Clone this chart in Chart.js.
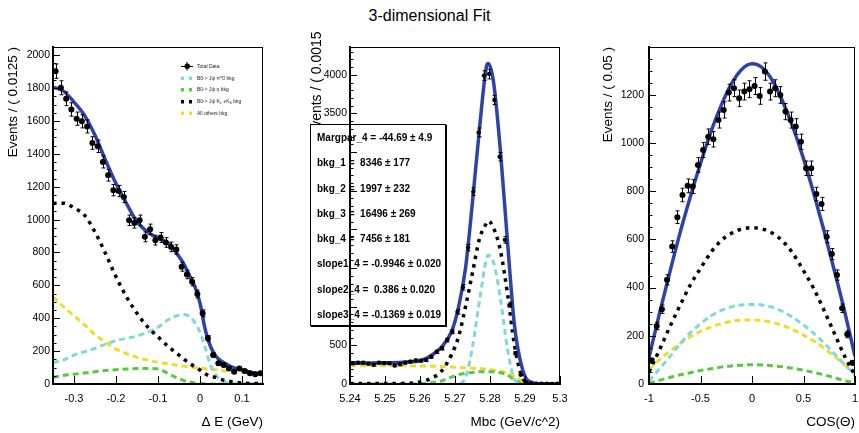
<!DOCTYPE html>
<html>
<head>
<meta charset="utf-8">
<script src="https://cdn.jsdelivr.net/npm/chart.js@4.4.1/dist/chart.umd.min.js"></script>
<style>
  html, body { margin: 0; padding: 0; background: #fff; }
  body { width: 859px; height: 433px; position: relative; overflow: hidden; font-family: 'Liberation Sans', Arial, sans-serif; color: #000; }
  canvas { position: absolute; top: 0; }
  #c1 { left: 0; }
  #c2 { left: 290px; }
  #c3 { left: 590px; }
  #title { position: absolute; left: 0; top: 7px; width: 859px; text-align: center; font-size: 16px; line-height: 18px; }
  #mbcTitleClip { position: absolute; left: 290px; top: 30px; width: 60px; height: 150px; overflow: hidden; }
  #mbcTitle { position: absolute; left: 26px; top: 50px; transform: translate(-50%, -50%) rotate(-90deg); white-space: nowrap; font-size: 14px; }
  #stats { position: absolute; left: 310px; top: 124px; width: 136px; height: 202px; box-sizing: border-box; border: 1px solid #000; box-shadow: 1px 1px 0 #000; background: #fff; padding-left: 6px; font-size: 10px; font-weight: bold; line-height: 25.3px; white-space: pre; }
  /* legend is drawn at 2x and scaled down, tiny text */
  #legend { position: absolute; left: 179px; top: 59px; width: 200px; height: 130px; transform: scale(0.5); transform-origin: 0 0; font-size: 10px; color: #222; }
  #legend .row { position: absolute; left: 0; height: 20px; width: 200px; }
  #legend .sym { position: absolute; left: 4px; top: 7px; width: 24px; height: 7px; }
  #legend .txt { position: absolute; left: 36px; top: 0; line-height: 20px; white-space: nowrap; }
  #legend sub { font-size: 7px; line-height: 0; vertical-align: -2px; }
  .dataSym .hl { position: absolute; left: 0; top: 2.5px; width: 24px; height: 2px; background: #000; }
  .dataSym .vl { position: absolute; left: 11px; top: -5px; width: 2px; height: 17px; background: #000; }
  .dataSym .dot { position: absolute; left: 6.5px; top: -2px; width: 11px; height: 11px; border-radius: 50%; background: #000; }
</style>
</head>
<body>
<div id="title">3-dimensional Fit</div>
<canvas id="c1" width="290" height="433"></canvas>
<div id="legend">
  <div class="row" style="top:4px"><div class="sym dataSym"><div class="hl"></div><div class="vl"></div><div class="dot"></div></div><div class="txt">Total Data</div></div>
  <div class="row" style="top:27.6px"><div class="sym" style="background:repeating-linear-gradient(90deg, rgb(128,216,216) 0 7px, transparent 7px 16px)"></div><div class="txt">B0-&gt; Jψ π^0 bkg</div></div>
  <div class="row" style="top:51.2px"><div class="sym" style="background:repeating-linear-gradient(90deg, rgb(88,200,66) 0 7px, transparent 7px 16px)"></div><div class="txt">B0-&gt; Jψ η bkg</div></div>
  <div class="row" style="top:74.8px"><div class="sym" style="background:repeating-linear-gradient(90deg, #000 0 7px, transparent 7px 16px)"></div><div class="txt">B0-&gt; Jψ K<sub>L</sub> +K<sub>S</sub> bkg</div></div>
  <div class="row" style="top:98px"><div class="sym" style="background:repeating-linear-gradient(90deg, rgb(236,222,40) 0 7px, transparent 7px 16px)"></div><div class="txt">All others bkg.</div></div>
</div>
<div id="mbcTitleClip"><div id="mbcTitle">Events / ( 0.0015 )</div></div>
<div id="stats">Margpar_4 = -44.69 ± 4.9
bkg_1 =  8346 ± 177
bkg_2 =  1997 ± 232
bkg_3 =  16496 ± 269
bkg_4 =  7456 ± 181
slope1_4 = -0.9946 ± 0.020
slope2_4 =  0.386 ± 0.020
slope3_4 = -0.1369 ± 0.019</div>
<canvas id="c2" width="300" height="433"></canvas>
<canvas id="c3" width="269" height="433"></canvas>

<script>
// ---------- Delta E panel ----------
const dEBinLo = -0.35;
const dEBinW = 0.0125;
const dECounts = [1903, 1802, 1735, 1670, 1614, 1598, 1567, 1466, 1446, 1351,
                  1270, 1179, 1174, 1138, 996, 980, 996, 895, 942, 875,
                  891, 861, 834, 818, 713, 666, 622, 547, 430, 278,
                  176, 126, 115, 95, 75, 95, 79, 65, 59, 65];
const dEGrid = [-0.35, -0.325, -0.3, -0.275, -0.25, -0.225, -0.2, -0.175, -0.15, -0.125,
                -0.1, -0.075, -0.05, -0.0375, -0.025, -0.0125, 0, 0.0125, 0.025, 0.0375,
                0.05, 0.075, 0.1, 0.125, 0.15];
const dEFit   = [1806, 1782, 1715, 1634, 1513, 1361, 1219, 1098, 986, 925,
                 885, 855, 775, 725, 660, 595, 492, 330, 228, 170,
                 140, 105, 85, 69, 61];
const dEKl    = [1100, 1100, 1071, 1027, 925, 794, 652, 530, 430, 348,
                 287, 227, 176, 150, 126, 105, 85, 62, 45, 40,
                 28, 14, 6, 3, 2];
const dEPi0   = [130, 146, 176, 196, 217, 243, 263, 278, 292, 315,
                 345, 392, 419, 423, 410, 375, 315, 220, 115, 55,
                 25, 4, 1, 0, 0];
const dEOther = [530, 470, 415, 360, 300, 255, 212, 185, 162, 145,
                 132, 122, 112, 108, 104, 100, 97, 93, 89, 86,
                 83, 76, 70, 64, 59];
const dEEta   = [40, 52, 60, 67, 75, 82, 87, 91, 94, 95,
                 92, 62, 32, 20, 12, 6, 3, 1, 0, 0,
                 0, 0, 0, 0, 0];
const dEXTicks = [-0.3, -0.2, -0.1, 0, 0.1];
const dEYTicks = [0, 200, 400, 600, 800, 1000, 1200, 1400, 1600, 1800, 2000];

// ---------- Mbc panel ----------
const mbcBinLo = 5.24;
const mbcBinW = 0.0015;
const mbcCounts = [268, 276, 276, 262, 250, 276, 270, 267, 240, 255,
                   276, 290, 305, 302, 310, 353, 418, 462, 569, 676,
                   935, 1251, 1765, 2488, 3255, 3990, 4010, 3675, 2940, 1865,
                   1026, 400, 120, 20, 6, 4, 3, 5, 2, 3];
const mbcGrid  = [5.24, 5.245, 5.25, 5.255, 5.26, 5.263, 5.266, 5.269, 5.271, 5.273,
                  5.275, 5.277, 5.279, 5.2795, 5.281, 5.283, 5.285, 5.287, 5.289, 5.291,
                  5.295, 5.3];
const mbcFit   = [270, 272, 275, 282, 300, 362, 470, 676, 992, 1497,
                  2358, 3305, 4110, 4147, 3911, 3005, 1841, 756, 238, 40,
                  3, 2];
const mbcKl    = [5, 5, 5, 8, 25, 70, 160, 380, 610, 1000,
                  1440, 1880, 2080, 2110, 2020, 1720, 1170, 500, 110, 15,
                  3, 2];
const mbcPi0   = [0, 0, 0, 0, 0, 0, 0, 0, 5, 80,
                  480, 1080, 1620, 1665, 1575, 1100, 450, 60, 0, 0,
                  0, 0];
const mbcOther = [238, 237, 236, 235, 233, 230, 226, 220, 215, 210,
                  205, 198, 190, 188, 180, 165, 140, 100, 45, 3,
                  0, 0];
const mbcEta   = [0, 0, 0, 2, 5, 15, 40, 90, 120, 138,
                  150, 158, 160, 160, 158, 145, 115, 55, 8, 0,
                  0, 0];
const mbcXTicks = [5.24, 5.25, 5.26, 5.27, 5.28, 5.29, 5.3];
const mbcYTicks = [0, 500, 1000, 1500, 2000, 2500, 3000, 3500, 4000];

// ---------- cos(theta) panel ----------
const cosBinLo = -1;
const cosBinW = 0.05;
const cosCounts = [97, 241, 310, 432, 570, 692, 784, 822, 819, 909,
                   971, 1026, 1015, 1095, 1137, 1209, 1227, 1185, 1213, 1223,
                   1236, 1195, 1296, 1213, 1227, 1199, 1130, 1095, 1068, 1005,
                   895, 895, 788, 747, 611, 539, 452, 314, 206, 88];
const cosGrid  = [-1, -0.9, -0.8, -0.7, -0.6, -0.5, -0.4, -0.3, -0.2, -0.1, 0,
                  0.1, 0.2, 0.3, 0.4, 0.5, 0.6, 0.7, 0.8, 0.9, 1];
const cosFit   = [110, 290, 460, 625, 775, 915, 1045, 1155, 1245, 1305, 1328,
                  1312, 1258, 1170, 1062, 935, 790, 635, 470, 300, 115];
const cosKl    = [50, 140, 235, 325, 410, 480, 545, 595, 625, 643, 648,
                  643, 625, 592, 540, 470, 395, 305, 210, 115, 35];
const cosPi0   = [12, 62, 112, 165, 212, 250, 282, 305, 320, 328, 330,
                  328, 318, 300, 275, 245, 210, 170, 125, 80, 38];
const cosOther = [60, 100, 135, 168, 195, 218, 236, 250, 260, 265, 266,
                  263, 255, 242, 225, 203, 178, 148, 115, 80, 48];
const cosEta   = [3, 15, 27, 38, 47, 56, 63, 70, 75, 78, 80,
                  79, 76, 71, 65, 57, 48, 38, 26, 14, 3];
const cosXTicks = [-1, -0.5, 0, 0.5, 1];
const cosYTicks = [0, 200, 400, 600, 800, 1000, 1200];

const BLUE = 'rgb(46,66,168)';
const CYAN = 'rgb(128,216,216)';
const GREEN = 'rgb(88,200,66)';
const YELLOW = 'rgb(236,222,40)';

Chart.defaults.font.family = "'Liberation Sans', Arial, sans-serif";
Chart.defaults.color = '#000';

const xy = (xs, ys) => xs.map((x, i) => ({ x: x, y: ys[i] }));
const centers = (lo, w, n) => Array.from({ length: n }, (_, i) => lo + w * (i + 0.5));

function dataPoints(xs, ys, r) {
  return { type: 'scatter', label: 'Total Data', data: xy(xs, ys), pointRadius: r,
           pointBackgroundColor: '#000', pointBorderWidth: 0, errorBars: true, order: 0 };
}
function curve(label, xs, ys, color, dash, width, order) {
  return { type: 'line', label: label, data: xy(xs, ys), borderColor: color, borderWidth: width,
           borderDash: dash, pointRadius: 0, fill: false, cubicInterpolationMode: 'monotone', order: order };
}

// ROOT-like frame: error bars, thin frame, inner ticks
const rootFrame = {
  id: 'rootFrame',
  afterDatasetsDraw(chart) {
    const { ctx, chartArea: a, scales: { y } } = chart;
    ctx.save();
    ctx.beginPath();
    ctx.rect(a.left, a.top, a.right - a.left, a.bottom - a.top);
    ctx.clip();
    ctx.strokeStyle = '#000';
    ctx.lineWidth = 1;
    chart.data.datasets.forEach((ds, i) => {
      if (!ds.errorBars) return;
      chart.getDatasetMeta(i).data.forEach((pt, j) => {
        const v = ds.data[j].y, e = Math.sqrt(v);
        const y1 = y.getPixelForValue(v + e), y2 = y.getPixelForValue(Math.max(v - e, 0));
        const px = Math.round(pt.x) + 0.5;
        ctx.beginPath();
        ctx.moveTo(px, y1); ctx.lineTo(px, y2);
        ctx.moveTo(px - 2, y1); ctx.lineTo(px + 2, y1);
        ctx.moveTo(px - 2, y2); ctx.lineTo(px + 2, y2);
        ctx.stroke();
      });
    });
    ctx.restore();
  },
  afterDraw(chart, args, opts) {
    const { ctx, chartArea: a, scales: { x, y } } = chart;
    ctx.save();
    ctx.strokeStyle = '#000';
    ctx.lineWidth = 1;
    ctx.strokeRect(a.left + 0.5, a.top + 0.5, a.right - a.left - 1, a.bottom - a.top - 1);
    ctx.beginPath();
    for (let v = 0; v <= y.max; v += opts.yMinor) {
      const py = Math.round(y.getPixelForValue(v)) + 0.5;
      const major = y.ticks.some(t => Math.abs(t.value - v) < 1e-9);
      ctx.moveTo(a.left, py);
      ctx.lineTo(a.left + (major ? 7 : 3.5), py);
    }
    x.ticks.forEach(t => {
      const px = Math.round(x.getPixelForValue(t.value)) + 0.5;
      ctx.moveTo(px, a.bottom);
      ctx.lineTo(px, a.bottom - 8);
    });
    ctx.stroke();
    ctx.restore();
  }
};

function makePanel(id, cfg) {
  return new Chart(document.getElementById(id), {
    type: 'scatter',
    data: { datasets: cfg.datasets },
    options: {
      responsive: false,
      devicePixelRatio: 1,
      animation: false,
      layout: { padding: { top: 47, right: cfg.padRight, left: 0, bottom: 0 } },
      plugins: { legend: { display: false }, tooltip: { enabled: false }, rootFrame: { yMinor: cfg.yMinor } },
      scales: {
        x: {
          type: 'linear', min: cfg.xMin, max: cfg.xMax,
          afterBuildTicks: s => { s.ticks = cfg.xTicks.map(v => ({ value: v })); },
          afterFit: s => { s.height = 49; s.paddingLeft = 0; s.paddingRight = 0; },
          grid: { display: false, drawTicks: false },
          border: { display: true, color: '#000', width: 2 },
          ticks: { autoSkip: false, maxRotation: 0, padding: 8, font: { size: 11 }, callback: v => String(v) },
          title: { display: true, text: cfg.xTitle, align: 'end', font: { size: 13.5 }, padding: { top: 0, bottom: 3 } }
        },
        y: {
          type: 'linear', min: 0, max: cfg.yMax,
          afterBuildTicks: s => { s.ticks = cfg.yTicks.map(v => ({ value: v })); },
          afterFit: s => { s.width = cfg.yWidth; s.paddingTop = 0; s.paddingBottom = 0; },
          grid: { display: false, drawTicks: false },
          border: { display: true, color: '#000', width: 2 },
          ticks: { padding: cfg.yPad, font: { size: 10.5 }, callback: cfg.yLabel || (v => String(v)) },
          title: cfg.yTitle
            ? { display: true, text: cfg.yTitle, align: 'end', font: { size: 13.5 }, padding: { top: cfg.yTitlePad, bottom: 0 } }
            : { display: false }
        }
      }
    },
    plugins: [rootFrame]
  });
}

makePanel('c1', {
  xMin: -0.35, xMax: 0.15, yMax: 2050, yMinor: 50,
  xTicks: dEXTicks, yTicks: dEYTicks, padRight: 27, yWidth: 53, yPad: 3,
  xTitle: 'Δ E (GeV)', yTitle: 'Events / ( 0.0125 )', yTitlePad: 5,
  datasets: [
    dataPoints(centers(dEBinLo, dEBinW, dECounts.length), dECounts, 3),
    curve('fit', dEGrid, dEFit, BLUE, [], 3.5, 1),
    curve('KL', dEGrid, dEKl, '#000', [3.5, 5], 3.5, 2),
    curve('pi0', dEGrid, dEPi0, CYAN, [6, 4], 3, 3),
    curve('eta', dEGrid, dEEta, GREEN, [6, 4], 3, 4),
    curve('other', dEGrid, dEOther, YELLOW, [6, 4], 3, 5)
  ]
});

makePanel('c2', {
  xMin: 5.24, xMax: 5.3, yMax: 4360, yMinor: 100,
  xTicks: mbcXTicks, yTicks: mbcYTicks, padRight: 30, yWidth: 60, yPad: 3,
  xTitle: 'Mbc (GeV/c^2)', yTitle: null,
  yLabel: v => (v >= 1000 && v <= 3000) ? '' : String(v),   // covered by the stat box in the original
  datasets: [
    dataPoints(centers(mbcBinLo, mbcBinW, mbcCounts.length), mbcCounts, 2.2),
    curve('fit', mbcGrid, mbcFit, BLUE, [], 3.5, 1),
    curve('KL', mbcGrid, mbcKl, '#000', [3.5, 5], 3.5, 2),
    curve('pi0', mbcGrid, mbcPi0, CYAN, [6, 4], 3, 3),
    curve('eta', mbcGrid, mbcEta, GREEN, [6, 4], 3, 4),
    curve('other', mbcGrid, mbcOther, YELLOW, [6, 4], 3, 5)
  ]
});

makePanel('c3', {
  xMin: -1, xMax: 1, yMax: 1398, yMinor: 50,
  xTicks: cosXTicks, yTicks: cosYTicks, padRight: 1, yWidth: 59, yPad: 5,
  xTitle: 'COS(Θ)', yTitle: 'Events / ( 0.05 )', yTitlePad: 10,
  datasets: [
    dataPoints(centers(cosBinLo, cosBinW, cosCounts.length), cosCounts, 3),
    curve('fit', cosGrid, cosFit, BLUE, [], 3.5, 1),
    curve('KL', cosGrid, cosKl, '#000', [3.5, 5], 3.5, 2),
    curve('pi0', cosGrid, cosPi0, CYAN, [6, 4], 3, 3),
    curve('eta', cosGrid, cosEta, GREEN, [6, 4], 3, 4),
    curve('other', cosGrid, cosOther, YELLOW, [6, 4], 3, 5)
  ]
});
</script>
</body>
</html>
